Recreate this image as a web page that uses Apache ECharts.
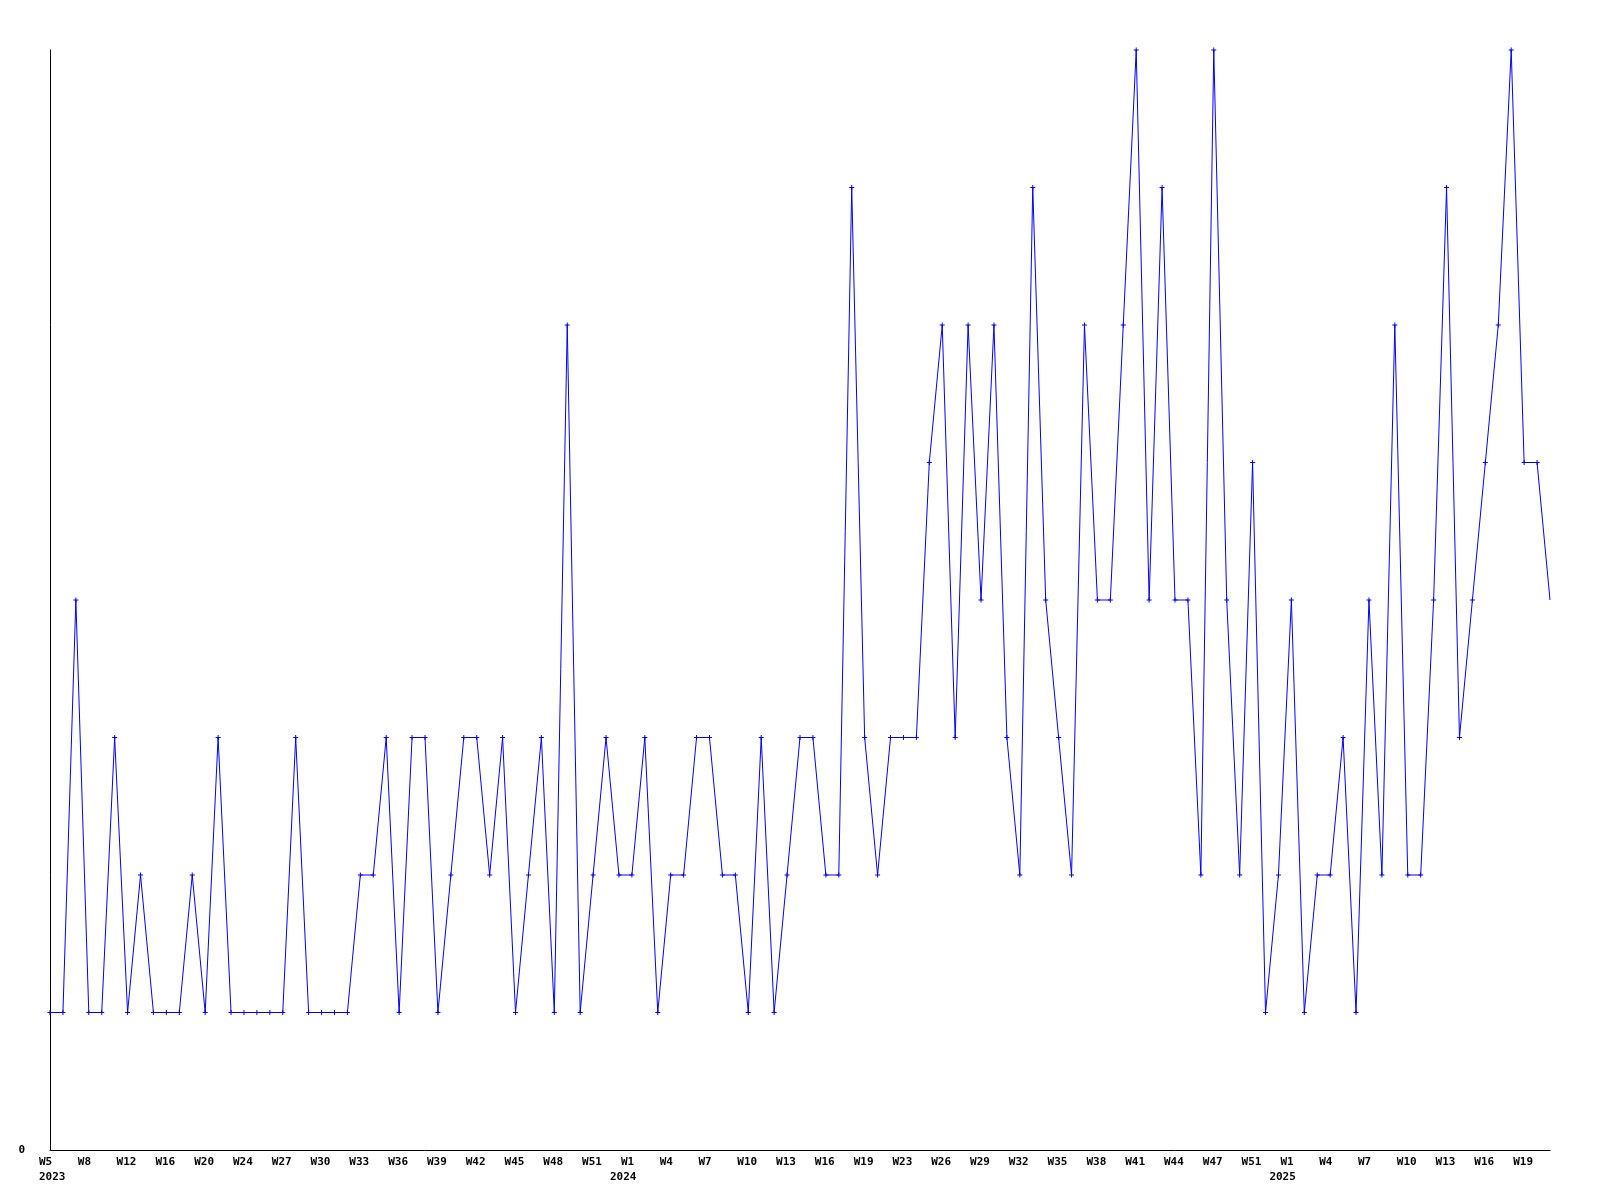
<!DOCTYPE html>
<html>
<head>
<meta charset="utf-8">
<script src="https://cdn.jsdelivr.net/npm/echarts@6/dist/echarts.min.js"></script>
<style>
html,body{margin:0;padding:0;background:#fff;}
#chart{width:1600px;height:1200px;}
</style>
</head>
<body>
<div id="chart"></div>
<script>
// Weekly values, 2023 W5 onward (117 points)
const values = [
  1,1,4,1,1,3,1,2,1,1,
  1,2,1,3,1,1,1,1,1,3,
  1,1,1,1,2,2,3,1,3,3,
  1,2,3,3,2,3,1,2,3,1,
  6,1,2,3,2,2,3,1,2,2,
  3,3,2,2,1,3,1,2,3,3,
  2,2,7,3,2,3,3,3,5,6,
  3,6,4,6,3,2,7,4,3,2,
  6,4,4,6,8,4,7,4,4,2,
  8,4,2,5,1,2,4,1,2,2,
  3,1,4,2,6,2,2,4,7,3,
  4,5,6,8,5,5,4
];
// Tick labels, one every 3rd point
const tickLabels = [
  'W5','W8','W12','W16','W20','W24','W27','W30','W33','W36','W39','W42','W45','W48','W51',
  'W1','W4','W7','W10','W13','W16','W19','W23','W26','W29','W32','W35','W38','W41','W44','W47','W51',
  'W1','W4','W7','W10','W13','W16','W19'
];
// Year captions: [tick label index, year]
const yearTicks = [[0,'2023'],[15,'2024'],[32,'2025']];
const yTickLabels = ['0'];
const labelStep = 3;

const FONT_FAMILY = 'DejaVu Sans Mono';
const FONT_SIZE = 11;
const categories = values.map((_, i) => String(i));

// text measuring for label layout
const mctx = document.createElement('canvas').getContext('2d');
mctx.font = 'bold ' + FONT_SIZE + 'px "' + FONT_FAMILY + '"';
const tw = s => mctx.measureText(s).width;

// label block is right-anchored at the tick; week text starts 11px left of the tick
const BLOCK = 22, LEFT_PAD = 11;
const rich = {
  p: {width: LEFT_PAD, align: 'left', lineHeight: 15},
  w: {width: BLOCK - LEFT_PAD, align: 'left', lineHeight: 15}
};
const yearMap = {};
yearTicks.forEach(([k, y]) => {
  let pad = LEFT_PAD;
  if (k !== 0) pad = Math.max(0, LEFT_PAD + tw(tickLabels[k]) - tw(y));
  pad = Math.round(pad);
  if (pad > 0) rich['yp' + k] = {width: pad, align: 'left', lineHeight: 15};
  rich['y' + k] = {width: BLOCK - pad, align: 'left', lineHeight: 15};
  yearMap[k] = {text: y, pad: pad};
});

const plusPath = 'path://M2,0L3,0L3,2L5,2L5,3L3,3L3,5L2,5L2,3L0,3L0,2L2,2Z';

const chart = echarts.init(document.getElementById('chart'), null, {renderer: 'canvas'});
chart.setOption({
  animation: false,
  backgroundColor: '#ffffff',
  grid: {left: 50, right: 50, top: 50, bottom: 50, containLabel: false},
  xAxis: {
    type: 'category',
    data: categories,
    boundaryGap: false,
    axisLine: {show: true, lineStyle: {color: '#000', width: 1}},
    axisTick: {show: false},
    splitLine: {show: false},
    axisLabel: {
      interval: labelStep - 1,
      margin: 5,
      showMinLabel: true,
      showMaxLabel: true,
      hideOverlap: false,
      color: '#000',
      fontFamily: FONT_FAMILY,
      fontWeight: 'bold',
      fontSize: FONT_SIZE,
      lineHeight: 15,
      align: 'right',
      overflow: 'none',
      rich: rich,
      formatter: function (v, idx) {
        if (idx % labelStep !== 0) return '';
        const k = idx / labelStep;
        const t = tickLabels[k];
        if (t === undefined) return '';
        let s = '{p| }{w|' + t + '}';
        const y = yearMap[k];
        if (y) {
          s += '\n' + (y.pad > 0 ? '{yp' + k + '| }' : '') + '{y' + k + '|' + y.text + '}';
        }
        return s;
      }
    }
  },
  yAxis: {
    type: 'value',
    min: 0,
    max: 8,
    interval: 8,
    axisLine: {show: true, lineStyle: {color: '#000', width: 1}},
    axisTick: {show: false},
    splitLine: {show: false},
    axisLabel: {
      margin: 25,
      color: '#000',
      fontFamily: FONT_FAMILY,
      fontWeight: 'bold',
      fontSize: FONT_SIZE,
      formatter: function (v) { return v === 0 ? yTickLabels[0] : ''; }
    }
  },
  series: [{
    type: 'line',
    data: values.map((v, i) => i === values.length - 1 ? {value: v, symbol: 'none'} : v),
    symbol: plusPath,
    symbolSize: 5,
    showSymbol: true,
    lineStyle: {color: '#0000ff', width: 1},
    itemStyle: {color: '#0000ff'},
    emphasis: {disabled: true}
  }]
});
</script>
</body>
</html>
